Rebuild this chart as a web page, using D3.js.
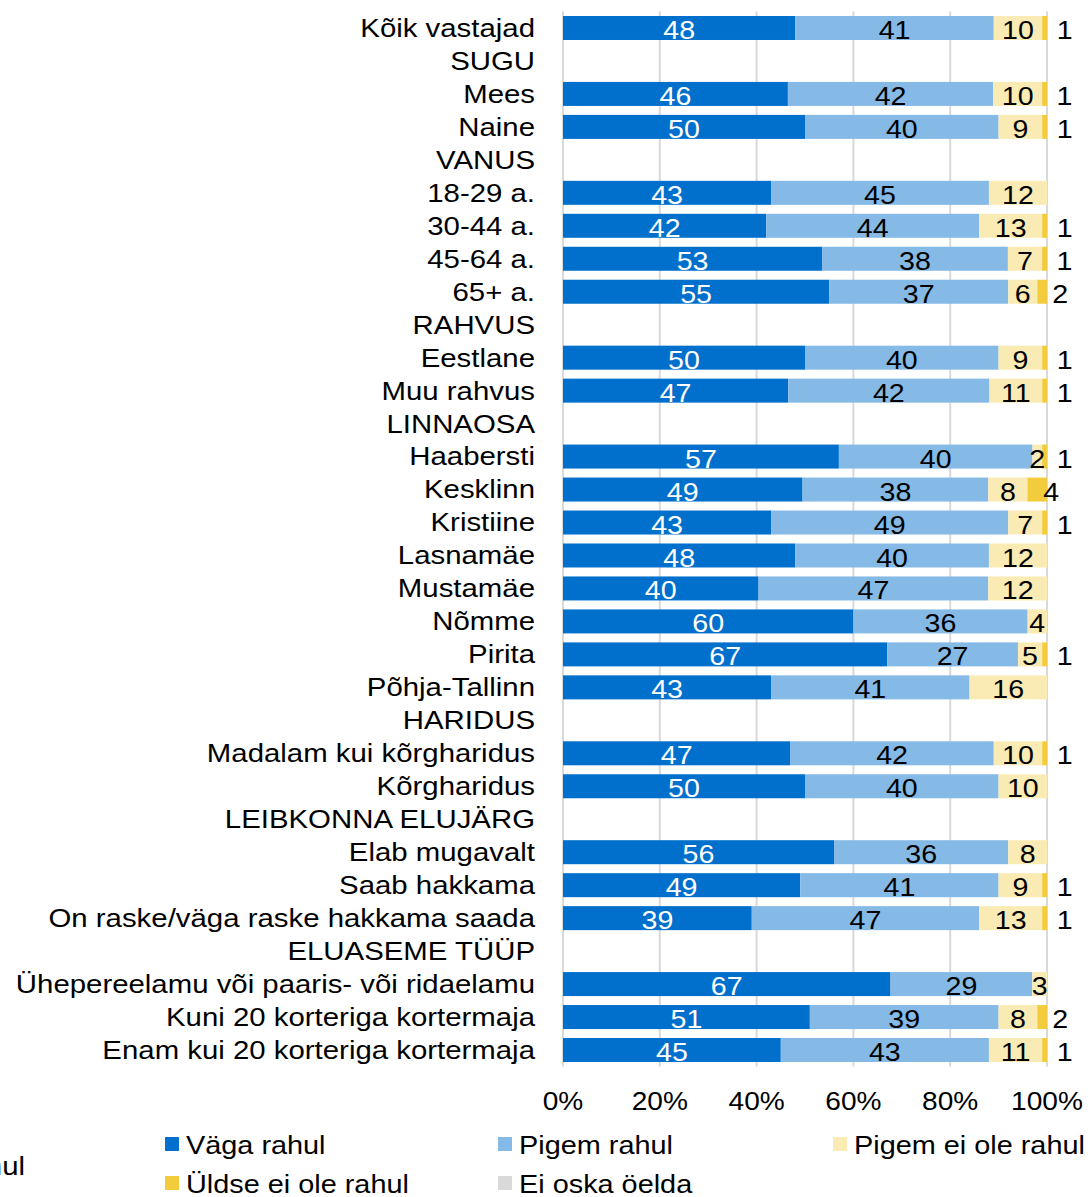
<!DOCTYPE html>
<html>
<head>
<meta charset="utf-8">
<script src="https://cdn.jsdelivr.net/npm/d3@7"></script>
<style>
  html, body { margin: 0; padding: 0; background: #fff; }
  svg { display: block; }
  text { font-family: "Liberation Sans", Arial, sans-serif; }
</style>
</head>
<body>
<script>
const categories = ["Kõik vastajad","SUGU","Mees","Naine","VANUS","18-29 a.","30-44 a.","45-64 a.","65+ a.","RAHVUS","Eestlane","Muu rahvus","LINNAOSA","Haabersti","Kesklinn","Kristiine","Lasnamäe","Mustamäe","Nõmme","Pirita","Põhja-Tallinn","HARIDUS","Madalam kui kõrgharidus","Kõrgharidus","LEIBKONNA ELUJÄRG","Elab mugavalt","Saab hakkama","On raske/väga raske hakkama saada","ELUASEME TÜÜP","Ühepereelamu või paaris- või ridaelamu","Kuni 20 korteriga kortermaja","Enam kui 20 korteriga kortermaja"];

const seriesNames = ["Väga rahul","Pigem rahul","Pigem ei ole rahul","Üldse ei ole rahul","Ei oska öelda"];

const vagaRahul   = [48,null,46,50,null,43,42,53,55,null,50,47,null,57,49,43,48,40,60,67,43,null,47,50,null,56,49,39,null,67,51,45];
const pigemRahul  = [41,null,42,40,null,45,44,38,37,null,40,42,null,40,38,49,40,47,36,27,41,null,42,40,null,36,41,47,null,29,39,43];
const pigemEiOle  = [10,null,10,9,null,12,13,7,6,null,9,11,null,2,8,7,12,12,4,5,16,null,10,10,null,8,9,13,null,3,8,11];
const uldseEiOle  = [1,null,1,1,null,0,1,1,2,null,1,1,null,1,4,1,0,0,0,1,0,null,1,0,null,0,1,1,null,0,2,1];
const eiOska      = [0,null,0,0,null,0,0,0,0,null,0,0,null,0,0,0,0,0,0,0,0,null,0,0,null,0,0,0,null,0,0,0];

const tickValues = [0, 0.2, 0.4, 0.6, 0.8, 1.0];
const tickLabels = ["0%","20%","40%","60%","80%","100%"];

const colors = ["#0070CC","#85B9E6","#FAEBB4","#F2CC3D","#D9D9D9"];
const labelColors = ["#ffffff","#000000","#000000","#000000","#000000"];

const W = 1091, H = 1197;
const FS = 26, SX = 1.13;

const svg = d3.select("body").append("svg").attr("width", W).attr("height", H);

const rows = categories.map((c, i) => ({
  cat: c,
  s0: vagaRahul[i], s1: pigemRahul[i], s2: pigemEiOle[i], s3: uldseEiOle[i], s4: eiOska[i]
}));
const keys = ["s0","s1","s2","s3","s4"];

const x = d3.scaleLinear().domain([0, 1]).range([563, 1047]);
const y = d3.scaleBand().domain(categories).range([11.5, 1066.5]).paddingInner(0.272).paddingOuter(0.136);

function txt(g, tx, ty, s, anchor, fill, sx) {
  return g.append("text")
    .attr("transform", `translate(${tx},${ty}) scale(${sx || SX},1)`)
    .attr("text-anchor", anchor)
    .attr("dominant-baseline", "central")
    .attr("font-size", FS)
    .attr("fill", fill || "#000")
    .text(s);
}

// gridlines
svg.append("g").selectAll("line").data(tickValues).join("line")
  .attr("x1", d => x(d)).attr("x2", d => x(d))
  .attr("y1", 11.5).attr("y2", 1066.5)
  .attr("stroke", "#D9D9D9").attr("stroke-width", 2);

// stack
const dataRows = rows.filter(r => r.s0 !== null);
const stack = d3.stack().keys(keys).offset(d3.stackOffsetExpand);
const stacked = stack(dataRows);

const gBars = svg.append("g");
stacked.forEach((layer, si) => {
  gBars.append("g").attr("fill", colors[si])
    .selectAll("rect").data(layer).join("rect")
    .attr("x", d => x(d[0]))
    .attr("width", d => Math.max(0, x(d[1]) - x(d[0])))
    .attr("y", d => y(d.data.cat))
    .attr("height", y.bandwidth());
});

// data labels
const gLab = svg.append("g");
stacked.forEach((layer, si) => {
  layer.forEach(d => {
    const v = d.data[keys[si]];
    if (!v) return;
    let cx = (x(d[0]) + x(d[1])) / 2;
    if (si === 3) cx += 22 - 2 * v;
    const cy = y(d.data.cat) + y.bandwidth() / 2 + 2;
    txt(gLab, cx, cy, String(v), "middle", labelColors[si], 1.1);
  });
});

// category labels
const gCat = svg.append("g");
categories.forEach(c => {
  txt(gCat, 535, y(c) + y.bandwidth() / 2, c, "end", "#000");
});

// x tick labels
const gAx = svg.append("g");
tickValues.forEach((t, i) => {
  txt(gAx, x(t), 1101, tickLabels[i], "middle", "#000", 1.08);
});

// legend
const legendPos = [[165, 1144], [498, 1144], [833, 1144], [165, 1183], [498, 1183]];
const gLeg = svg.append("g");
seriesNames.forEach((n, i) => {
  const [lx, ly] = legendPos[i];
  gLeg.append("rect").attr("x", lx).attr("y", ly - 7).attr("width", 14).attr("height", 14).attr("fill", colors[i]);
  txt(gLeg, lx + 21, ly + 1, n, "start", "#000", 1.11);
});

// cut-off fragment at the bottom-left edge
txt(svg, 25, 1166, "rahul", "end", "#000");
</script>
</body>
</html>
